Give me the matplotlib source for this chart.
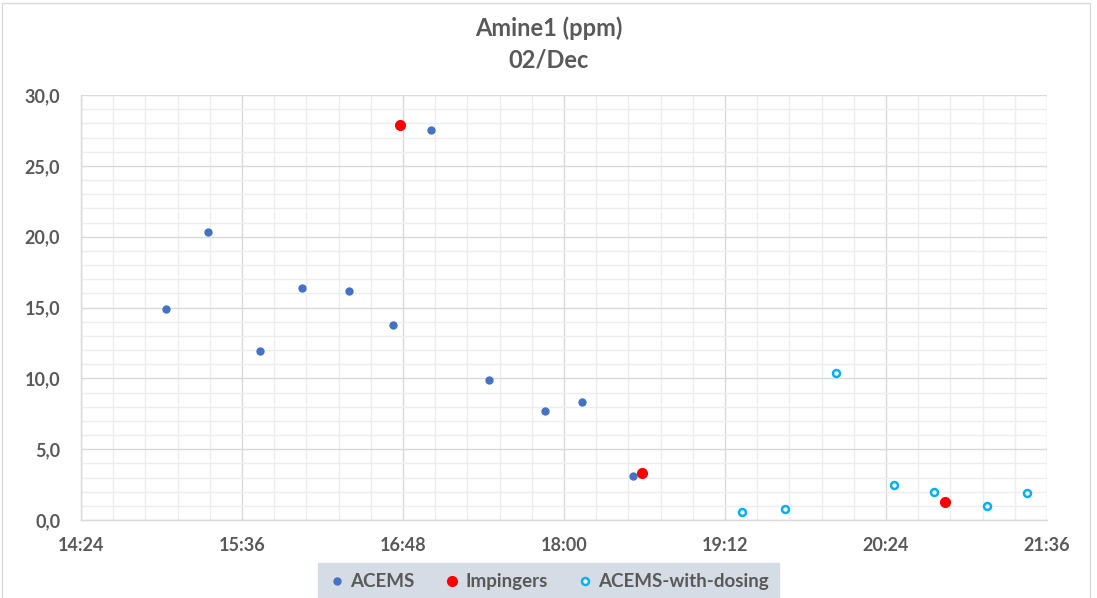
import matplotlib
matplotlib.use("Agg")
import matplotlib.pyplot as plt
import matplotlib.dates as mdates
from matplotlib.ticker import MultipleLocator, FuncFormatter
from matplotlib.patches import Rectangle
import datetime as dt

plt.rcParams['font.family'] = ['Lato', 'DejaVu Sans']

DAY = dt.datetime(2021, 12, 2)

def t(s):
    h, m = s.split(":")
    return DAY + dt.timedelta(hours=int(h), minutes=float(m))

acems_times = ["15:02", "15:21", "15:44", "16:03", "16:24", "16:43.5", "17:00.5",
               "17:26.5", "17:51.5", "18:08", "18:31"]
acems_values = [14.9, 20.3, 11.9, 16.4, 16.2, 13.8, 27.5, 9.9, 7.7, 8.3, 3.1]

imp_times = ["16:46.5", "18:35", "20:50.5"]
imp_values = [27.9, 3.3, 1.3]

dosing_times = ["19:19.5", "19:39", "20:01.5", "20:27.5", "20:45.5", "21:09", "21:27"]
dosing_values = [0.6, 0.8, 10.4, 2.5, 2.0, 1.0, 1.9]

x_ticks = ["14:24", "15:36", "16:48", "18:00", "19:12", "20:24", "21:36"]

text_col = "#595959"

fig = plt.figure(figsize=(10.97, 5.98), dpi=100)
ax = fig.add_axes([0.0738, 0.1304, 0.8806, 0.7106])

ax.plot([t(s) for s in acems_times], acems_values, linestyle="none", marker="o",
        markersize=5, color="#4472C4", label="ACEMS", zorder=3)
ax.plot([t(s) for s in imp_times], imp_values, linestyle="none", marker="o",
        markersize=7, color="#FF0000", label="Impingers", zorder=3)
ax.plot([t(s) for s in dosing_times], dosing_values, linestyle="none", marker="o",
        markersize=5, markerfacecolor="white", markeredgecolor="#00B0F0",
        markeredgewidth=1.8, label="ACEMS-with-dosing", zorder=3)

xt = [mdates.date2num(t(s)) for s in x_ticks]
ax.set_xlim(xt[0], xt[-1])
ax.set_ylim(0, 30)
ax.set_xticks(xt)
ax.set_xticklabels(x_ticks)
step = (xt[1] - xt[0]) / 5
ax.set_xticks([xt[0] + i * step for i in range(31)], minor=True)
ax.yaxis.set_major_locator(MultipleLocator(5))
ax.yaxis.set_minor_locator(MultipleLocator(1))
ax.yaxis.set_major_formatter(FuncFormatter(lambda v, p: f"{v:.1f}".replace(".", ",")))

ax.grid(which="minor", color="#EDEDED", linewidth=1.0, zorder=0)
ax.grid(which="major", color="#D9D9D9", linewidth=1.0, zorder=1)
ax.set_axisbelow(True)
for side in ["top", "right"]:
    ax.spines[side].set_visible(False)
for side in ["left", "bottom"]:
    ax.spines[side].set_color("#D9D9D9")
    ax.spines[side].set_linewidth(1.0)
ax.tick_params(which="both", length=0)
ax.tick_params(axis="x", pad=12, labelsize=13, labelcolor=text_col)
ax.tick_params(axis="y", pad=15, labelsize=13, labelcolor=text_col)
for lab in ax.get_xticklabels() + ax.get_yticklabels():
    lab.set_fontweight("bold")

fig.text(0.5, 0.953, "Amine1 (ppm)", ha="center", va="center", fontsize=17,
         fontweight="bold", color=text_col)
fig.text(0.5, 0.900, "02/Dec", ha="center", va="center", fontsize=17,
         fontweight="bold", color=text_col)

leg = fig.legend(loc="lower center", bbox_to_anchor=(0.5, -0.02), ncol=3,
                 frameon=True, fancybox=False, handletextpad=0.2,
                 columnspacing=1.5, handlelength=1.0, borderpad=0.55,
                 prop={"weight": "bold", "size": 13.5})
leg.get_frame().set_facecolor("#D6DCE5")
leg.get_frame().set_edgecolor("#D6DCE5")
leg.get_frame().set_alpha(1)
for txt in leg.get_texts():
    txt.set_color(text_col)

fig.patches.append(Rectangle((0.002, -0.01), 0.992, 1.005, transform=fig.transFigure,
                             fill=False, edgecolor="#D9D9D9", linewidth=1.0))

fig.savefig("out.png", dpi=100)
